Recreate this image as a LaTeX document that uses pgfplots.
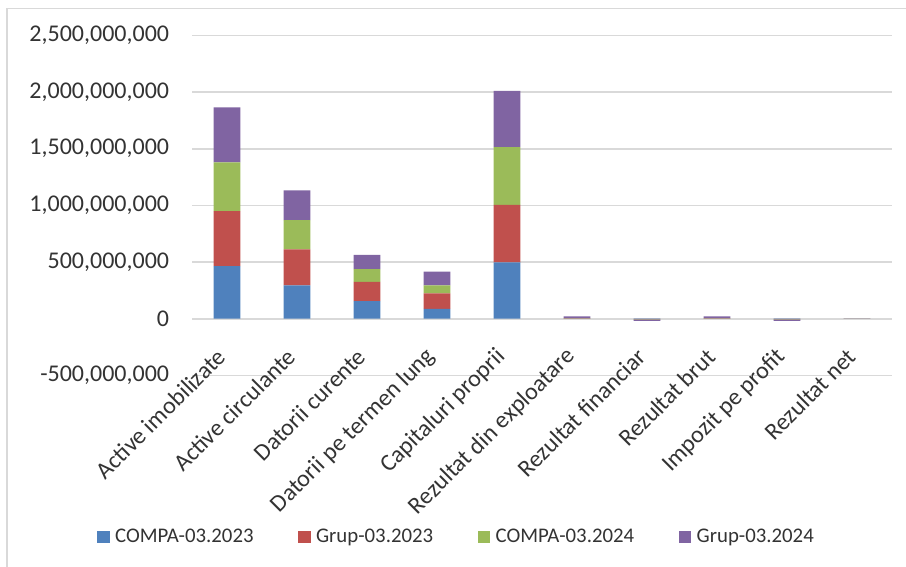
\documentclass[border=0pt]{standalone}
\usepackage{fontspec}
\setmainfont{Carlito}
\usepackage{pgfplots}
\usepackage{pgfplotstable}
\pgfplotsset{compat=1.18}

\definecolor{sBlue}{HTML}{4F81BD}
\definecolor{sRed}{HTML}{C0504D}
\definecolor{sGreen}{HTML}{9BBB59}
\definecolor{sPurple}{HTML}{8064A2}
\definecolor{gridgray}{HTML}{D9D9D9}
\definecolor{txt}{HTML}{333333}

% indicatori financiari, lei
\pgfplotstableread{
idx  compa23  grup23  compa24  grup24
0    465e6    485e6   429e6    485e6
1    295e6    317e6   259e6    262e6
2    156e6    170e6   112e6    126e6
3    88e6     136e6   71e6     120e6
4    497e6    508e6   509e6    497e6
5    2e6      2e6     2e6      14e6
6    -2e6     -2e6    -2e6     -14e6
7    2e6      2e6     2e6      14e6
8    -2e6     -2e6    -2e6     -14e6
9    0.2e6    0.2e6   0.2e6    0.2e6
}\indicatori

\begin{document}
\begin{tikzpicture}
\useasboundingbox (0,0) rectangle (679.5pt,425.25pt);
% chart area frame
\draw[gridgray, line width=1.2pt] (5.25pt,-5pt) -- (5.25pt,419pt) -- (690pt,419pt);
\begin{axis}[
  at={(144pt,143.7pt)}, anchor=south west,
  scale only axis, width=525pt, height=255pt,
  ybar stacked, bar width=20pt,
  xmin=-0.5, xmax=9.5,
  ymin=-5e8, ymax=2.5e9,
  xtick={0,...,9},
  xticklabels={Active imobilizate, Active circulante, Datorii curente,
    Datorii pe termen lung, Capitaluri proprii, Rezultat din exploatare,
    Rezultat financiar, Rezultat brut, Impozit pe profit, Rezultat net},
  ytick={-5e8,0,5e8,1e9,1.5e9,2e9,2.5e9},
  yticklabels={{-500,000,000},{0},{500,000,000},{1,000,000,000},{1,500,000,000},{2,000,000,000},{2,500,000,000}},
  scaled y ticks=false,
  axis line style={draw=none},
  tick style={draw=none},
  ymajorgrids, grid style={gridgray, line width=1.3pt},
  yticklabel style={font=\fontsize{18}{20}\selectfont, text=txt, anchor=east, inner sep=0pt, xshift=-17pt},
  xticklabel style={font=\fontsize{18}{20}\selectfont, text=txt, xshift=-4pt, yshift=17pt, rotate=45, anchor=east, inner sep=0pt},
  legend columns=4,
  legend style={at={(-0.1357,-0.4753)}, anchor=west, draw=none, inner sep=0pt,
    font=\fontsize{15.6}{17}\selectfont, text=txt,
    /tikz/every odd column/.append style={column sep=2.5pt},
    /tikz/every even column/.append style={column sep=32pt},
    nodes={inner sep=1.5pt}},
  legend image code/.code={\fill[#1] (0pt,-4.7pt) rectangle (9.4pt,4.7pt);},
]
\addplot[fill=sBlue, draw=none] table[x=idx, y=compa23] {\indicatori};
\addplot[fill=sRed, draw=none] table[x=idx, y=grup23] {\indicatori};
\addplot[fill=sGreen, draw=none] table[x=idx, y=compa24] {\indicatori};
\addplot[fill=sPurple, draw=none] table[x=idx, y=grup24] {\indicatori};
\legend{COMPA-03.2023, Grup-03.2023, COMPA-03.2024, Grup-03.2024}
\end{axis}
\end{tikzpicture}
\end{document}
